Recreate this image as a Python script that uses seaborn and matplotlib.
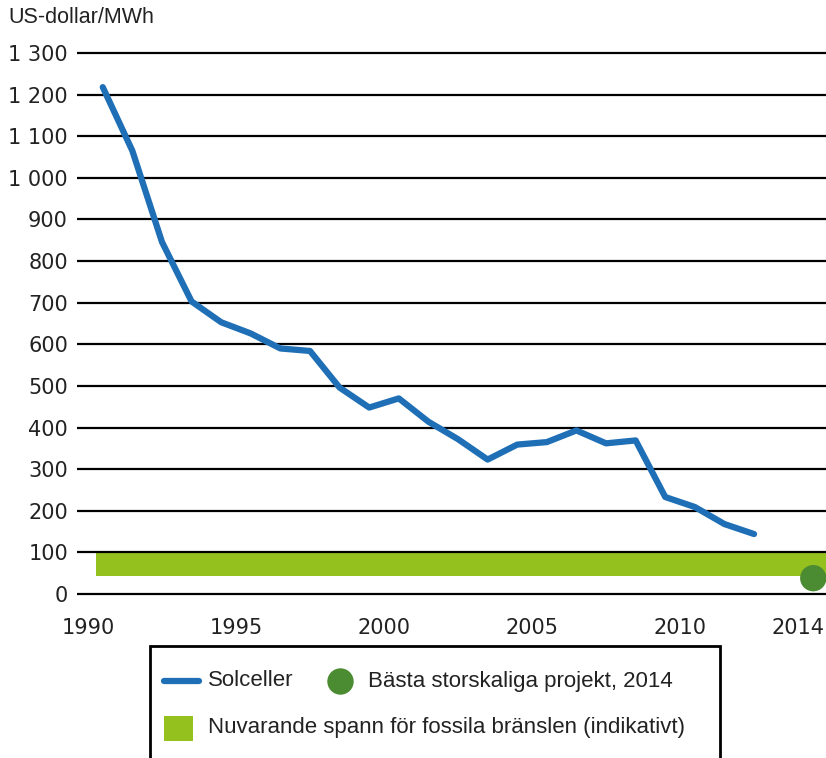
import matplotlib
matplotlib.use("Agg")
import matplotlib.pyplot as plt
import seaborn as sns
import pandas as pd
from matplotlib.patches import Rectangle
from matplotlib.lines import Line2D

# data (US-dollar/MWh)
years = list(range(1990, 2013))
solceller = [1218, 1065, 846, 703, 653, 626, 590, 584, 496, 448, 470, 414,
             372, 323, 359, 365, 393, 362, 369, 233, 209, 168, 144]
best_year = [2014]
best_value = [38]
fossil_low = 43
fossil_high = 100
y_ticks = list(range(0, 1301, 100))
x_ticks = [1990, 1995, 2000, 2005, 2010, 2014]

blue = "#1f6fb6"
band_green = "#95c11f"
dot_green = "#4b8b32"

sns.set_style("white")
plt.rcParams["font.family"] = ["DejaVu Sans"]

W, H = 826, 758
def fx(x):
    return x / W
def fy(y):
    return 1 - y / H

fig = plt.figure(figsize=(W / 100, H / 100), dpi=100)
ax = fig.add_axes([fx(77), fy(602.3), 1 - fx(77), (602.3 - 44.7) / H])

# values sit in the middle of each year
df = pd.DataFrame({"x": [y + 0.5 for y in years], "v": solceller})
best = pd.DataFrame({"x": [y + 0.5 for y in best_year], "v": best_value})

xmin, xmax = 1989.63, 2014.93
ax.set_xlim(xmin, xmax)
ax.set_ylim(-20, 1320)

ax.hlines(y_ticks, xmin, xmax, color="black", lw=1.6, zorder=1)
ax.fill_between([1990.27, 2016], fossil_low, fossil_high, color=band_green,
                lw=0, zorder=0.8)

sns.lineplot(data=df, x="x", y="v", ax=ax, color=blue, lw=4.5, zorder=3,
             solid_capstyle="round", solid_joinstyle="round")
sns.scatterplot(data=best, x="x", y="v", ax=ax, color=dot_green, s=360,
                edgecolor="none", zorder=4, clip_on=False)

for s in ax.spines.values():
    s.set_visible(False)
ax.set_xlabel("")
ax.set_ylabel("")
ax.set_yticks(y_ticks)
ax.set_yticklabels([f"{v:,}".replace(",", " ") for v in y_ticks])
ax.set_xticks(x_ticks)
ax.set_xticklabels([str(v) for v in x_ticks])
ax.tick_params(axis="y", length=0, pad=6.5, labelsize=15, labelcolor="#222222")
ax.tick_params(axis="x", length=0, pad=11, labelsize=15, labelcolor="#222222")

txt_font = ["Liberation Sans", "DejaVu Sans"]
fig.text(fx(8), fy(23), "US-dollar/MWh", fontsize=15.5, family=txt_font,
         va="baseline", ha="left", color="#222222")

# legend drawn by hand (two rows, first row holds two entries)
fig.add_artist(Rectangle((fx(150), fy(800)), fx(720) - fx(150), fy(646) - fy(800),
                         transform=fig.transFigure, fill=False, ec="black", lw=2))
fig.add_artist(Line2D([fx(164), fx(199)], [fy(681), fy(681)], color=blue, lw=4.5,
                      solid_capstyle="round", transform=fig.transFigure))
fig.text(fx(208), fy(681), "Solceller", fontsize=16, family=txt_font,
         va="center", ha="left", color="#222222")
fig.add_artist(Line2D([fx(340)], [fy(681)], marker="o", markersize=19,
                      color=dot_green, mec="none", transform=fig.transFigure))
fig.text(fx(368), fy(681), "Bästa storskaliga projekt, 2014", fontsize=16,
         family=txt_font, va="center", ha="left", color="#222222")
fig.add_artist(Rectangle((fx(164), fy(741)), fx(193) - fx(164), fy(716) - fy(741),
                         transform=fig.transFigure, color=band_green, lw=0))
fig.text(fx(208), fy(727), "Nuvarande spann för fossila bränslen (indikativt)",
         fontsize=16, family=txt_font, va="center", ha="left", color="#222222")

fig.savefig("out.png", dpi=100)
